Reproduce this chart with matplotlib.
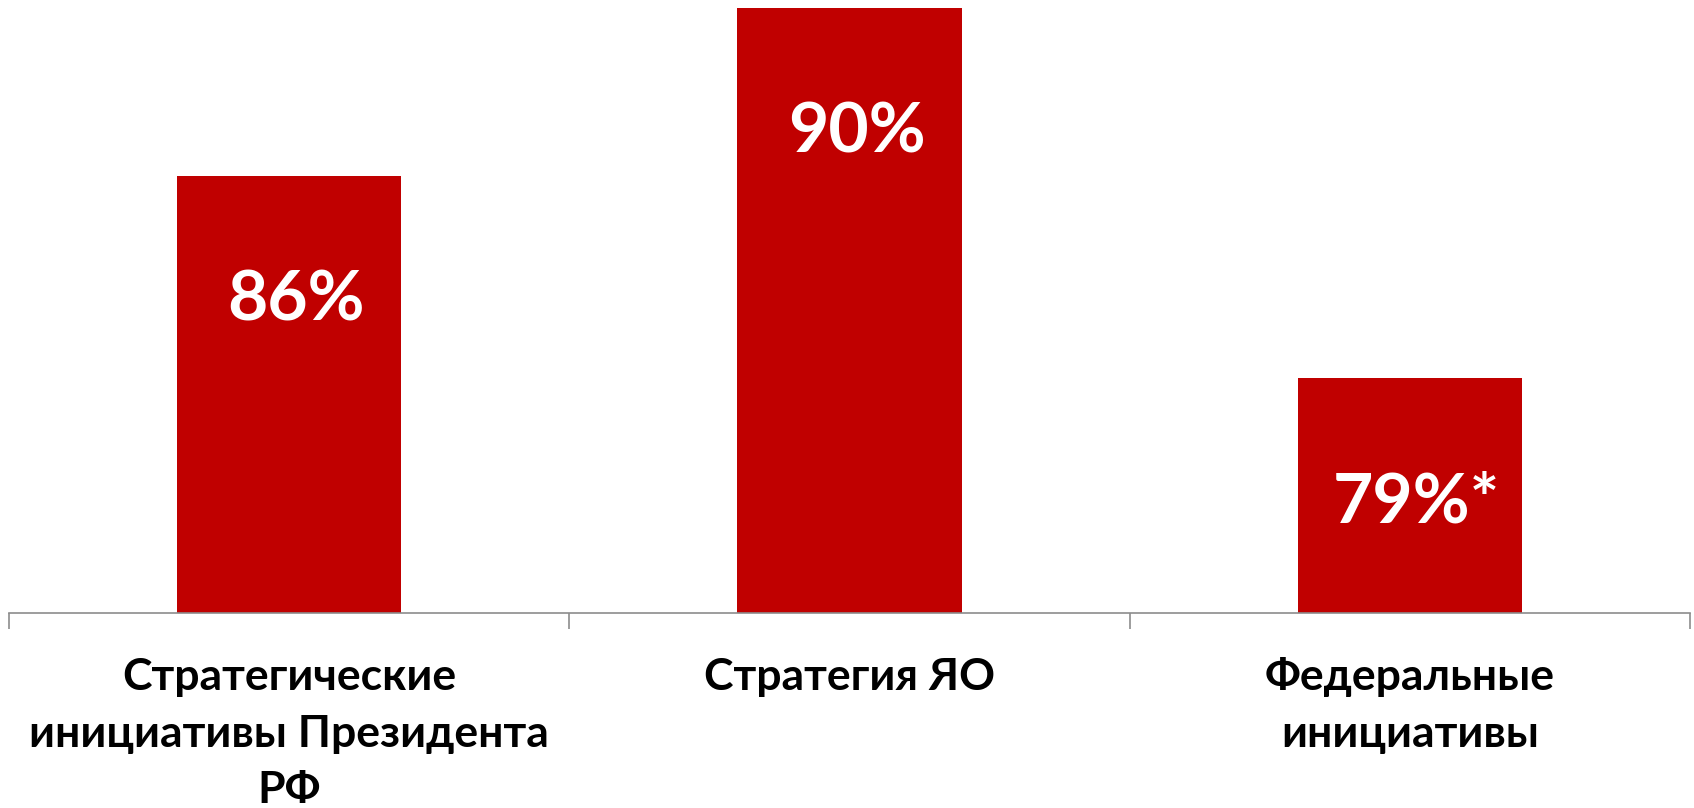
import matplotlib
matplotlib.use("Agg")
import matplotlib.pyplot as plt

# ----------------------------------------------------------------------
# Data
# ----------------------------------------------------------------------
categories = [
    "Стратегические\nинициативы Президента\nРФ",
    "Стратегия ЯО",
    "Федеральные\nинициативы",
]
# bar heights as drawn in the picture (the third label carries an asterisk)
values = [86, 90, 81.2]
value_labels = ["86%", "90%", "79%*"]

BAR_COLOR = "#C00000"
AXIS_COLOR = "#8C8C8C"

plt.rcParams["font.family"] = ["Lato", "DejaVu Sans"]

# ----------------------------------------------------------------------
# Plot
# ----------------------------------------------------------------------
fig = plt.figure(figsize=(16.94, 8.08), dpi=100)
ax = fig.add_axes([9 / 1694, (808 - 613) / 808, 1681 / 1694, 605 / 808])

x = list(range(len(categories)))
bars = ax.bar(x, values, width=0.4, color=BAR_COLOR, zorder=2)

ax.set_xlim(-0.5, len(categories) - 0.5)
ax.set_ylim(75.6, 90)

for rect, lab in zip(bars, value_labels):
    ax.annotate(
        lab,
        (rect.get_x() + rect.get_width() / 2, rect.get_height()),
        xytext=(5, -90),
        textcoords="offset points",
        ha="center",
        va="center",
        color="white",
        fontsize=50,
        fontweight="bold",
    )

# category boundaries as ticks, labels centred under bars
ax.set_xticks([i - 0.5 for i in range(len(categories) + 1)])
ax.set_xticklabels([])
ax.tick_params(axis="x", direction="out", length=11.5, width=1.2, color=AXIS_COLOR)
ax.set_yticks([])

for i, cat in enumerate(categories):
    ax.annotate(
        cat,
        (i, 0),
        xycoords=("data", "axes fraction"),
        xytext=(0, -32),
        textcoords="offset points",
        ha="center",
        va="top",
        fontsize=32,
        fontweight="bold",
        linespacing=1.5,
    )

for side in ["top", "right", "left"]:
    ax.spines[side].set_visible(False)
ax.spines["bottom"].set_color(AXIS_COLOR)
ax.spines["bottom"].set_linewidth(1.2)

fig.savefig("out.png", dpi=100)
